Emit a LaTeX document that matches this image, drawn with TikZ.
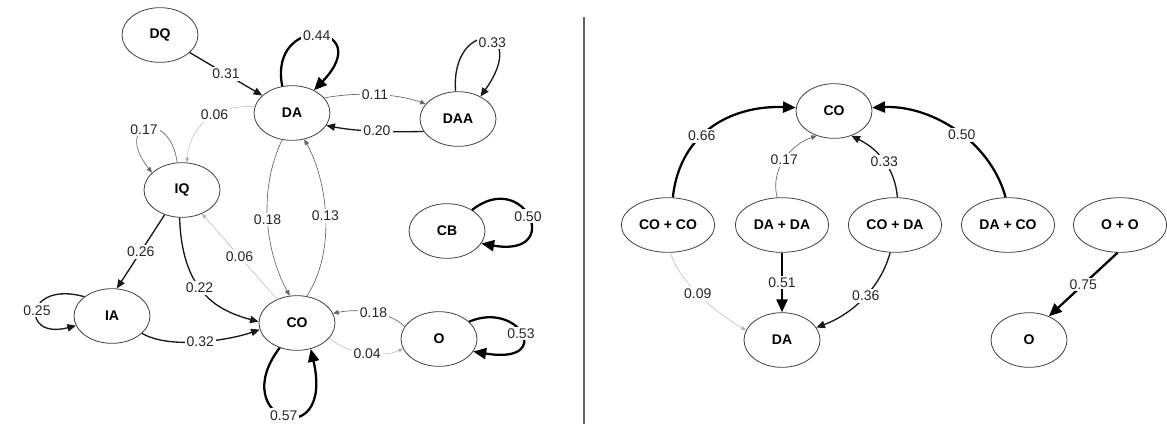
\documentclass[tikz,border=0pt]{standalone}
\usepackage{fontspec}
\setmainfont{Liberation Sans}
\usetikzlibrary{arrows.meta,shapes.geometric}

\begin{document}
\begin{tikzpicture}[x=0.75pt,y=-0.75pt,>={Triangle[length=2pt 4.5,width=1.5pt 4]},
  state/.style={ellipse,draw=black!75,line width=0.6pt,minimum width=57pt,minimum height=41pt,inner sep=0pt,font=\fontsize{10.5}{12}\selectfont\bfseries},
  pair/.style={state,minimum width=70pt},
  wt/.style={fill=white,inner sep=1.5pt,text=black!85,font=\fontsize{10.5}{12}\selectfont},
  pfaint/.style={->,draw=black!30,line width=0.35pt},
  plight/.style={->,draw=black!60,line width=0.5pt},
  pmid/.style={->,draw=black!90,line width=1pt},
  pheavy/.style={->,draw=black,line width=1.7pt}]
  \useasboundingbox (0,0) rectangle (1167,430);

  % single-mover chain
  \node[state] (DQ)  at (160,35)  {DQ};
  \node[state] (DA)  at (292,113) {DA};
  \node[state] (DAA) at (458,119) {DAA};
  \node[state] (IQ)  at (182,190) {IQ};
  \node[state] (IA)  at (112,316) {IA};
  \node[state] (CO)  at (297,323) {CO};
  \node[state] (CB)  at (447,231) {CB};
  \node[state] (O)   at (439,339) {O};

  \draw[pmid] (DQ) -- node[wt]{0.31} (DA);
  \draw[pheavy] (DA.110) .. controls (268,12) and (378,24) .. node[wt,pos=0.5]{0.44} (DA.46);
  \draw[plight] (DA.25) .. controls (355,92) and (395,93) .. node[wt]{0.11} (DAA.155);
  \draw[pmid] (DAA.200) .. controls (395,132) and (360,132) .. node[wt]{0.20} (DA.-20);
  \draw[pmid] (DAA.95) .. controls (450,18) and (532,24) .. node[wt,pos=0.6]{0.33} (DAA.45);
  \draw[pfaint] (DA.170) .. controls (215,105) and (190,125) .. node[wt,pos=0.4]{0.06} (IQ.80);
  \draw[plight] (IQ.100) .. controls (170,108) and (112,122) .. node[wt,pos=0.55]{0.17} (IQ.150);
  \draw[pmid] (IQ.235) -- node[wt]{0.26} (IA.80);
  \draw[pmid] (IQ.265) .. controls (182,290) and (215,310) .. node[wt,pos=0.45]{0.22} (CO.178);
  \draw[pfaint] (CO.130) -- node[wt]{0.06} (IQ.-50);
  \draw[plight] (DA.250) .. controls (258,190) and (265,250) .. node[wt]{0.18} (CO.105);
  \draw[plight] (CO.70) .. controls (337,250) and (327,180) .. node[wt]{0.13} (DA.295);
  \draw[pmid] (IA.145) .. controls (25,280) and (20,340) .. node[wt]{0.25} (IA.195);
  \draw[pmid] (IA.-30) .. controls (170,350) and (230,340) .. node[wt]{0.32} (CO.190);
  \draw[pheavy] (CO.235) .. controls (225,420) and (335,455) .. node[wt]{0.57} (CO.-62);
  \draw[plight] (O.160) .. controls (390,312) and (360,308) .. node[wt]{0.18} (CO.15);
  \draw[pfaint] (CO.-25) .. controls (350,356) and (385,357) .. node[wt]{0.04} (O.195);
  \draw[pheavy] (O.30) .. controls (520,300) and (555,365) .. node[wt]{0.53} (O.-20);
  \draw[pheavy] (CB.40) .. controls (525,168) and (565,258) .. node[wt]{0.50} (CB.-20);

  \draw[black!60,line width=1.5pt] (584,17) -- (584,424);

  % pair reactions
  \node[state] (rCO) at (834,111)  {CO};
  \node[pair]  (cc)  at (668,225)  {CO + CO};
  \node[pair]  (dd)  at (782,225)  {DA + DA};
  \node[pair]  (cd)  at (895,225)  {CO + DA};
  \node[pair]  (dc)  at (1008,225) {DA + CO};
  \node[pair]  (oo)  at (1120,225) {O + O};
  \node[state] (rDA) at (782,340)  {DA};
  \node[state] (rO)  at (1029,340) {O};

  \draw[pheavy] (cc.80) .. controls (680,130) and (735,105) .. node[wt,pos=0.4]{0.66} (rCO.175);
  \draw[plight] (dd.100) .. controls (770,170) and (790,145) .. node[wt]{0.17} (rCO.235);
  \draw[pmid] (cd.85) .. controls (895,170) and (880,150) .. node[wt]{0.33} (rCO.-55);
  \draw[pheavy] (dc.95) .. controls (990,140) and (930,105) .. node[wt,pos=0.45]{0.50} (rCO.5);
  \draw[pfaint] (cc.-85) .. controls (680,285) and (720,315) .. node[wt,pos=0.45]{0.09} (rDA.165);
  \draw[pheavy] (dd) -- node[wt]{0.51} (rDA);
  \draw[pmid] (cd.-100) .. controls (880,290) and (850,315) .. node[wt,pos=0.45]{0.36} (rDA.20);
  \draw[pheavy] (oo.-95) -- node[wt]{0.75} (rO.50);
\end{tikzpicture}
\end{document}
